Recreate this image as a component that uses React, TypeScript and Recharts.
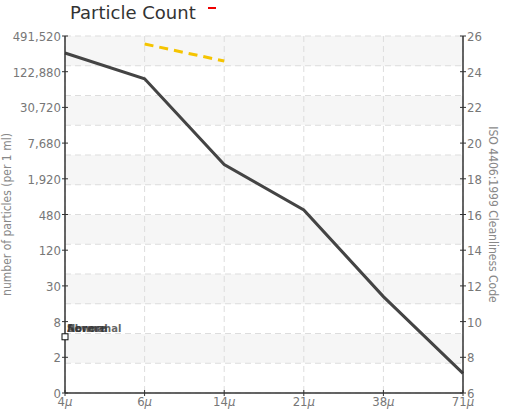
import { LineChart, Line, XAxis, YAxis, CartesianGrid, ReferenceDot } from "recharts";

const sizes = ["4", "6", "14", "21", "38", "71"];
const isoCodes = [25.05, 23.6, 18.8, 16.25, 11.4, 7.1];
const limitCodes = [null, 25.55, 24.6, null, null, null];
const codeTicks = [6, 8, 10, 12, 14, 16, 18, 20, 22, 24, 26];
const countLabels = ["0", "2", "8", "30", "120", "480", "1,920", "7,680", "30,720", "122,880", "491,520"];
const gridSteps = [0, 1, 2, 3, 4, 5, 6, 7, 8, 9, 10, 11, 12];
const legendNames = ["Severe", "Abnormal", "Normal"];

const narrow = "'Liberation Sans Narrow', 'DejaVu Sans Condensed', sans-serif";

const data = sizes.map((s, i) => ({ size: s, iso: isoCodes[i], limit: limitCodes[i] }));

// small "+" style ticks crossing the axis
const LeftTick = (props: any) => {
  const { x, y, payload } = props;
  const label = countLabels[codeTicks.indexOf(payload.value)];
  return (
    <g>
      <line x1={x - 3} x2={x + 3} y1={y} y2={y} stroke="#333" />
      <text x={x - 4} y={y + 5} textAnchor="end" fill="#777" fontSize={13} fontFamily={narrow}>
        {label}
      </text>
    </g>
  );
};

const RightTick = (props: any) => {
  const { x, y, payload } = props;
  return (
    <g>
      <line x1={x - 3} x2={x + 3} y1={y} y2={y} stroke="#333" />
      <text x={x + 4} y={y + 5} textAnchor="start" fill="#777" fontSize={13} fontFamily={narrow}>
        {payload.value}
      </text>
    </g>
  );
};

const BottomTick = (props: any) => {
  const { x, y, payload } = props;
  return (
    <g>
      <line x1={x} x2={x} y1={y - 3} y2={y + 3} stroke="#333" />
      <text x={x} y={y + 13} textAnchor="middle" fill="#777" fontSize={13} fontFamily={narrow}>
        {payload.value}
        <tspan fontStyle="italic">μ</tspan>
      </text>
    </g>
  );
};

const LegendMarker = (props: any) => {
  const { cx, cy } = props;
  return (
    <g>
      <rect x={cx - 3} y={cy - 3} width={6} height={6} fill="#fff" stroke="#111" strokeWidth={1} />
      {legendNames.map((n) => (
        <text key={n} x={cx + 2} y={cy - 5} fill="#333" fontSize={10} fontWeight="bold" fontFamily="'DejaVu Sans', sans-serif" opacity={0.75}>
          {n}
        </text>
      ))}
    </g>
  );
};

export default function App() {
  return (
    <div style={{ position: "absolute", left: 0, top: 0, width: 508, height: 412, background: "#fff" }}>
      <div
        style={{
          position: "absolute",
          left: 70,
          top: 2,
          fontFamily: "'DejaVu Sans', sans-serif",
          fontSize: 18,
          color: "#333",
        }}
      >
        Particle Count
      </div>
      <div style={{ position: "absolute", left: 208, top: 7, width: 8, height: 2, background: "#e00" }} />
      <LineChart width={508} height={412} data={data} margin={{ top: 36, right: 0, left: 0, bottom: 0 }}>
        <CartesianGrid
          stroke="#ddd"
          strokeDasharray="6 4"
          horizontalCoordinatesGenerator={({ offset }: any) =>
            gridSteps.map((s) => offset.top + (s * offset.height) / 12)
          }
          horizontalFill={["#f6f6f6", "#ffffff"]}
          fillOpacity={1}
        />
        <XAxis
          dataKey="size"
          height={19}
          stroke="#333"
          strokeWidth={1.5}
          tickSize={0}
          tickMargin={0}
          tick={<BottomTick />}
        />
        <YAxis
          yAxisId="count"
          type="number"
          domain={[6, 26]}
          ticks={codeTicks}
          interval={0}
          width={65}
          stroke="#333"
          strokeWidth={1.5}
          tickSize={0}
          tickMargin={0}
          tick={<LeftTick />}
          label={{
            content: (p: any) => (
              <text
                transform={`translate(11, ${p.viewBox.y + p.viewBox.height / 2}) rotate(-90)`}
                textAnchor="middle"
                fill="#888"
                fontSize={12}
                fontFamily={narrow}
              >
                number of particles (per 1 ml)
              </text>
            ),
          }}
        />
        <YAxis
          yAxisId="iso"
          orientation="right"
          type="number"
          domain={[6, 26]}
          ticks={codeTicks}
          interval={0}
          width={45}
          stroke="#333"
          strokeWidth={1.5}
          tickSize={0}
          tickMargin={0}
          tick={<RightTick />}
          label={{
            content: (p: any) => (
              <text
                transform={`translate(${p.viewBox.x + 26}, ${p.viewBox.y + p.viewBox.height / 2}) rotate(90)`}
                textAnchor="middle"
                fill="#888"
                fontSize={12}
                fontFamily={narrow}
              >
                ISO 4406:1999 Cleanliness Code
              </text>
            ),
          }}
        />
        {/* same values on the count axis, invisible, so the axis gets its ticks */}
        <Line
          yAxisId="count"
          dataKey="iso"
          stroke="none"
          dot={false}
          activeDot={false}
          isAnimationActive={false}
        />
        <Line
          yAxisId="iso"
          dataKey="iso"
          stroke="#444"
          strokeWidth={3}
          dot={false}
          type="linear"
          isAnimationActive={false}
        />
        <Line
          yAxisId="iso"
          dataKey="limit"
          stroke="#f5c400"
          strokeWidth={3}
          strokeDasharray="9 6"
          dot={false}
          type="linear"
          isAnimationActive={false}
        />
        <ReferenceDot yAxisId="iso" x="4" y={9.15} shape={<LegendMarker />} />
      </LineChart>
    </div>
  );
}
